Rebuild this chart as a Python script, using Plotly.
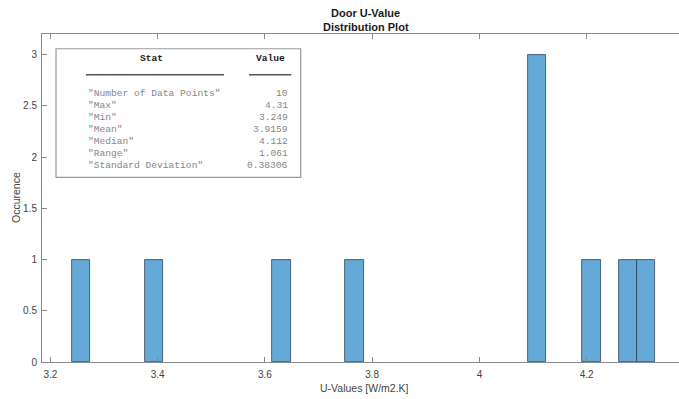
import plotly.graph_objects as go

# ---- data ----
u_values = [3.249, 3.385, 3.63, 3.76, 4.112, 4.112, 4.112, 4.21, 4.279, 4.31]
bin_start = 3.24
bin_size = 0.034
bin_end = 4.328

x_ticks = [3.2, 3.4, 3.6, 3.8, 4.0, 4.2]
x_tick_labels = ["3.2", "3.4", "3.6", "3.8", "4", "4.2"]
y_ticks = [0, 0.5, 1, 1.5, 2, 2.5, 3]
y_tick_labels = ["0", "0.5", "1", "1.5", "2", "2.5", "3"]

stat_names = ['"Number of Data Points"', '"Max"', '"Min"', '"Mean"', '"Median"',
              '"Range"', '"Standard Deviation"']
stat_values = ["10", "4.31", "3.249", "3.9159", "4.112", "1.061", "0.38306"]

title_lines = ["Door U-Value", "Distribution Plot"]
x_label = "U-Values [W/m2.K]"
y_label = "Occurence"

# ---- layout geometry (pixels) ----
W, H = 679, 399
L, R, T, B = 42, 0, 33.5, 36.5
PW, PH = W - L - R, H - T - B


def px(x):
    return (x - L) / PW


def py(y):
    return (H - B - y) / PH


fig = go.Figure()
fig.add_trace(go.Histogram(
    x=u_values,
    xbins=dict(start=bin_start, end=bin_end, size=bin_size),
    marker=dict(color="rgb(100,169,215)",
                line=dict(color="rgba(40,55,70,0.9)", width=0.8)),
    showlegend=False,
))

axis_col = "#8a8a8a"
tick_font = dict(family="Liberation Sans, Arial", size=10, color="#444444")

fig.update_layout(
    width=W, height=H,
    margin=dict(l=L, r=R, t=T, b=B, pad=0),
    paper_bgcolor="white", plot_bgcolor="white",
    bargap=0,
    xaxis=dict(range=[3.1843, 4.3722], tickvals=x_ticks, ticktext=x_tick_labels,
               showgrid=False, zeroline=False, showline=True, linecolor=axis_col,
               linewidth=1, mirror="ticks", ticks="inside", ticklen=5,
               tickcolor=axis_col, tickfont=tick_font, ticklabelstandoff=3),
    yaxis=dict(range=[0, 3.2], tickvals=y_ticks, ticktext=y_tick_labels,
               showgrid=False, zeroline=False, showline=True, linecolor=axis_col,
               linewidth=1, mirror=False, ticks="inside", ticklen=5,
               tickcolor=axis_col, tickfont=tick_font, ticklabelstandoff=2),
)

ann = []
# titles
ann.append(dict(x=px(365.7), y=py(12), xref="paper", yref="paper", text="<b>" + title_lines[0] + "</b>",
                showarrow=False, xanchor="center", yanchor="middle",
                font=dict(family="Liberation Sans, Arial", size=11, color="#1a1a1a")))
ann.append(dict(x=px(365.7), y=py(26), xref="paper", yref="paper", text="<b>" + title_lines[1] + "</b>",
                showarrow=False, xanchor="center", yanchor="middle",
                font=dict(family="Liberation Sans, Arial", size=11, color="#1a1a1a")))
# axis labels
ann.append(dict(x=px(364), y=py(389), xref="paper", yref="paper", text=x_label,
                showarrow=False, xanchor="center", yanchor="middle",
                font=dict(family="Liberation Sans, Arial", size=10.5, color="#444444")))
ann.append(dict(x=px(16), y=py(198), xref="paper", yref="paper", text=y_label, textangle=-90,
                showarrow=False, xanchor="center", yanchor="middle",
                font=dict(family="Liberation Sans, Arial", size=10.5, color="#444444")))

# table
mono = "Liberation Mono, Courier New, monospace"
ann.append(dict(x=px(151.7), y=py(58.5), xref="paper", yref="paper", text="<b>Stat</b>",
                showarrow=False, xanchor="center", yanchor="middle",
                font=dict(family=mono, size=9.6, color="#222222")))
ann.append(dict(x=px(270), y=py(58.5), xref="paper", yref="paper", text="<b>Value</b>",
                showarrow=False, xanchor="center", yanchor="middle",
                font=dict(family=mono, size=9.6, color="#222222")))
row0, dy = 93.3, 12.1
for i, (n, v) in enumerate(zip(stat_names, stat_values)):
    yy = py(row0 + i * dy)
    ann.append(dict(x=px(85.5), y=yy, xref="paper", yref="paper", text=n,
                    showarrow=False, xanchor="left", yanchor="middle",
                    font=dict(family=mono, size=9.6, color="#858585")))
    ann.append(dict(x=px(290), y=yy, xref="paper", yref="paper", text=v,
                    showarrow=False, xanchor="right", yanchor="middle",
                    font=dict(family=mono, size=9.6, color="#858585")))
fig.update_layout(annotations=ann)

shapes = [
    dict(type="rect", xref="paper", yref="paper", x0=px(56), x1=px(300.7), y0=py(177.3), y1=py(48.3),
         line=dict(color="#9a9a9a", width=1.2), fillcolor="white", layer="above"),
    dict(type="line", xref="paper", yref="paper", x0=px(86), x1=px(224), y0=py(74.3), y1=py(74.3),
         line=dict(color="#555555", width=1.6), layer="above"),
    dict(type="line", xref="paper", yref="paper", x0=px(249), x1=px(291.3), y0=py(74.3), y1=py(74.3),
         line=dict(color="#555555", width=1.6), layer="above"),
]
fig.update_layout(shapes=shapes)

fig.write_html("out.html", config={"displayModeBar": False},
               post_script="document.body.style.margin='0';")
